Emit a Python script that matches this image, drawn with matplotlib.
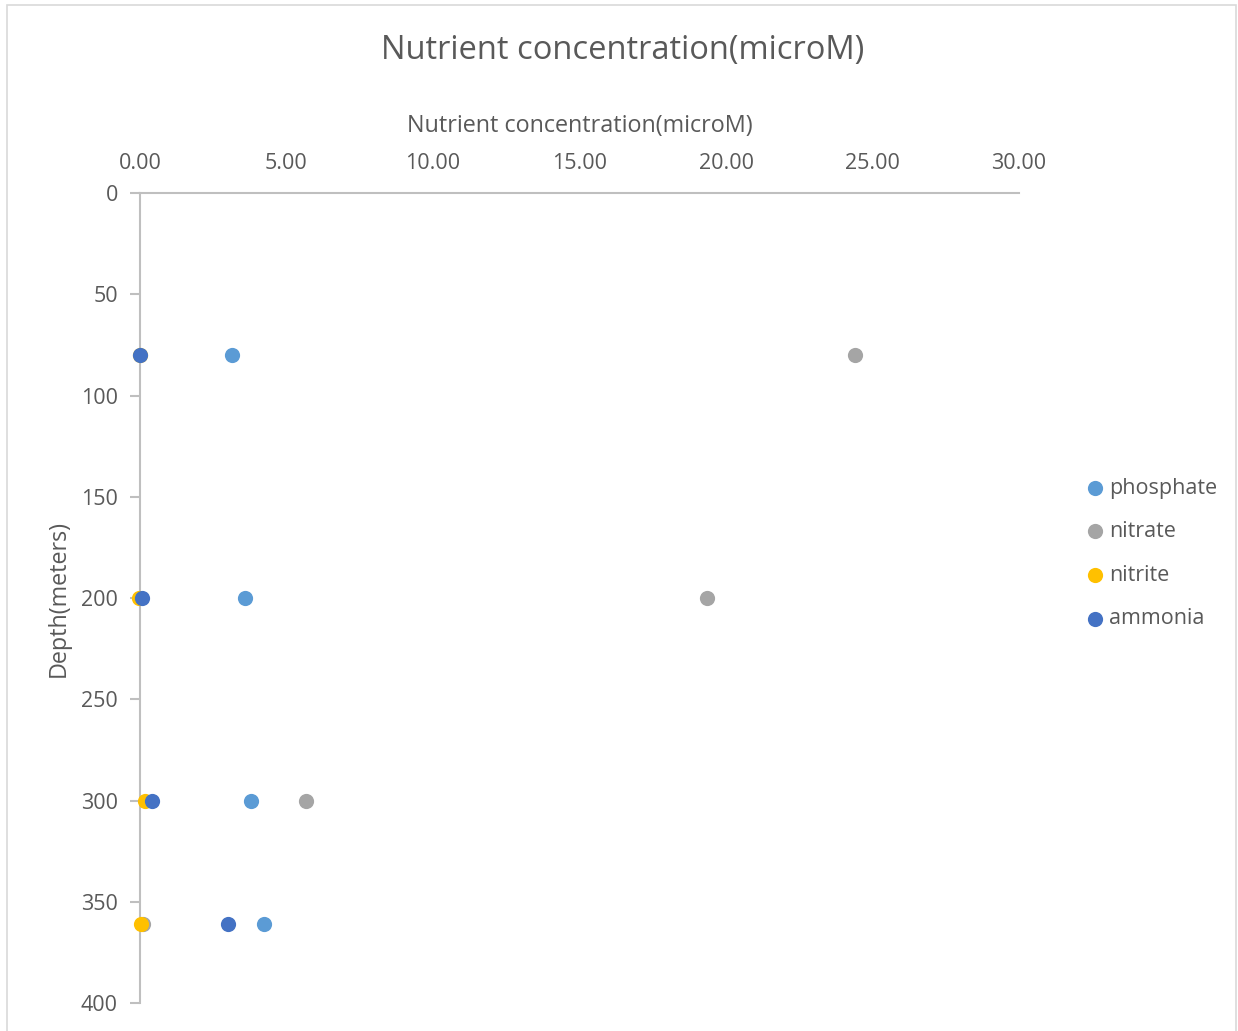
import matplotlib
matplotlib.use('Agg')
import matplotlib.pyplot as plt
from matplotlib.patches import Rectangle
import numpy as np

# depth (m) of each sample
depth = [80, 200, 300, 361]

# nutrient concentrations (microM)
phosphate = [3.14, 3.58, 3.79, 4.23]
nitrate = [24.4, 19.35, 5.67, 0.1]
nitrite = [0.0, -0.05, 0.17, 0.02]
ammonia = [0.0, 0.07, 0.41, 3.0]

series = [
    ('phosphate', phosphate, '#5b9bd5'),
    ('nitrate', nitrate, '#a5a5a5'),
    ('nitrite', nitrite, '#ffc000'),
    ('ammonia', ammonia, '#4472c4'),
]

x_ticks = [0, 5, 10, 15, 20, 25, 30]
y_ticks = [0, 50, 100, 150, 200, 250, 300, 350, 400]

text_col = '#595959'
axis_col = '#bfbfbf'
font = ['Open Sans', 'DejaVu Sans']
plt.rcParams['font.family'] = font

fig = plt.figure(figsize=(12.38, 10.31), dpi=100)
fig.patches.append(Rectangle((7 / 1238, -0.01), 1229 / 1238, 1.01 - 5 / 1031,
                             transform=fig.transFigure, fill=False,
                             edgecolor='#d9d9d9', linewidth=1.2))

ax = fig.add_axes([140 / 1238, 1 - 1003 / 1031, 879 / 1238, 810 / 1031])

for name, vals, col in series:
    ax.scatter(vals, depth, s=120, color=col, label=name, zorder=3,
               clip_on=False, linewidths=0)

ax.set_xlim(0, 30)
ax.set_ylim(400, 0)
ax.set_xticks(x_ticks)
ax.set_xticklabels(['%.2f' % v for v in x_ticks])
ax.set_yticks(y_ticks)
ax.xaxis.tick_top()
ax.xaxis.set_label_position('top')

for side in ['right', 'bottom']:
    ax.spines[side].set_visible(False)
for side in ['left', 'top']:
    ax.spines[side].set_color(axis_col)
    ax.spines[side].set_linewidth(1.5)

ax.tick_params(axis='x', length=0, pad=14, labelsize=15.5, labelcolor=text_col)
ax.tick_params(axis='y', length=7, width=1.5, color=axis_col, pad=9,
               labelsize=15.5, labelcolor=text_col)

ax.set_xlabel('Nutrient concentration(microM)', fontsize=16.8, color=text_col,
              labelpad=15)
ax.set_ylabel('Depth(meters)', fontsize=16.8, color=text_col, labelpad=7)

fig.text(623 / 1238, 1 - 51 / 1031, 'Nutrient concentration(microM)',
         fontsize=23.5, color=text_col, ha='center', va='center')

leg = ax.legend(loc='center left', bbox_to_anchor=((1084 - 140) / 879, 0.555),
                frameon=False, fontsize=15.5, labelcolor=text_col,
                handlelength=1.0, handletextpad=0.15, labelspacing=1.05,
                markerscale=1.0, borderaxespad=0, borderpad=0)

fig.savefig('out.png', dpi=100)
